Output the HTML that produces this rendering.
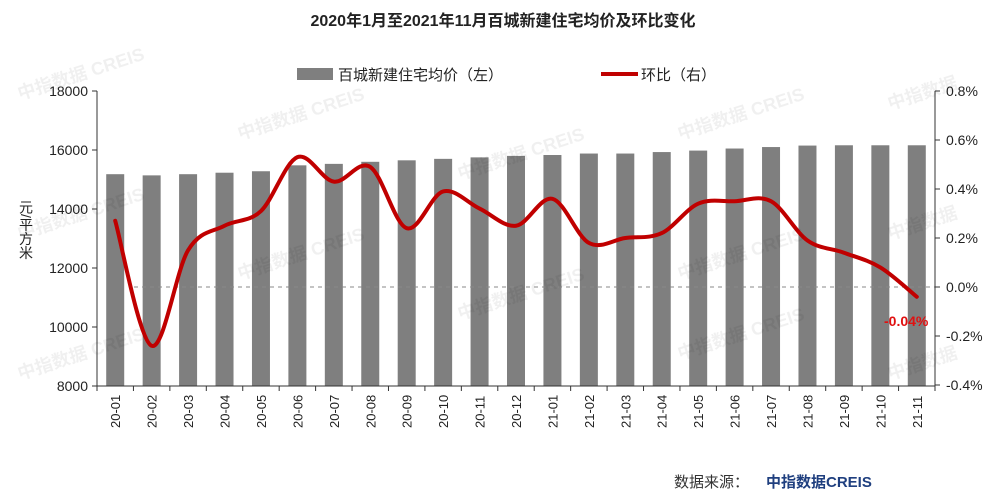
<!DOCTYPE html>
<html><head><meta charset="utf-8"><style>body{margin:0;background:#fff}svg{display:block}</style></head>
<body>
<svg width="1006" height="499" xmlns="http://www.w3.org/2000/svg" font-family="Liberation Sans, Noto Sans CJK SC, sans-serif">
<text x="503" y="26" text-anchor="middle" font-size="16" font-weight="bold" fill="#222">2020年1月至2021年11月百城新建住宅均价及环比变化</text>
<rect x="297" y="68" width="36" height="12" fill="#7f7f7f"/>
<text x="338" y="80" font-size="15" fill="#222">百城新建住宅均价（左）</text>
<line x1="601" y1="74" x2="638" y2="74" stroke="#c00000" stroke-width="4"/>
<text x="641" y="80" font-size="15" fill="#222">环比（右）</text>
<g id="bars" fill="#7f7f7f"></g>
<line x1="134" y1="287" x2="935" y2="287" stroke="#888" stroke-dasharray="4,4" stroke-width="1"/>
<line x1="97" y1="91" x2="97" y2="386" stroke="#333"/>
<line x1="935" y1="91" x2="935" y2="386" stroke="#333"/>
<line x1="97" y1="386" x2="935" y2="386" stroke="#333"/>
<g id="ticks" stroke="#333"></g>
<g font-size="14" fill="#222" text-anchor="end" id="ly"></g>
<g font-size="14" fill="#222" id="ry"></g>
<g font-size="13" fill="#222" id="xl"></g>
<text x="26" y="200" font-size="14" fill="#222" style="writing-mode:tb;glyph-orientation-vertical:0">元/平方米</text>
<path id="line" fill="none" stroke="#c00000" stroke-width="4" stroke-linejoin="round" stroke-linecap="round"/>
<text x="884" y="326" font-size="14" font-weight="bold" fill="#e01010">-0.04%</text>
<text x="674" y="487" font-size="15" fill="#333">数据来源：</text>
<text x="766" y="487" font-size="15" font-weight="bold" fill="#1f3f7f">中指数据CREIS</text>
<g font-size="18" font-weight="bold" fill="#000" fill-opacity="0.06">
<text transform="translate(20,100) rotate(-18)">中指数据 CREIS</text>
<text transform="translate(240,140) rotate(-18)">中指数据 CREIS</text>
<text transform="translate(20,240) rotate(-18)">中指数据 CREIS</text>
<text transform="translate(240,280) rotate(-18)">中指数据 CREIS</text>
<text transform="translate(460,180) rotate(-18)">中指数据 CREIS</text>
<text transform="translate(460,320) rotate(-18)">中指数据 CREIS</text>
<text transform="translate(680,140) rotate(-18)">中指数据 CREIS</text>
<text transform="translate(680,280) rotate(-18)">中指数据 CREIS</text>
<text transform="translate(680,360) rotate(-18)">中指数据 CREIS</text>
<text transform="translate(20,380) rotate(-18)">中指数据 CREIS</text>
<text transform="translate(890,110) rotate(-18)">中指数据</text>
<text transform="translate(890,240) rotate(-18)">中指数据</text>
<text transform="translate(890,380) rotate(-18)">中指数据</text>
</g>
</svg>
<script>
const ns="http://www.w3.org/2000/svg";
function el(t,a,p,txt){const e=document.createElementNS(ns,t);for(const k in a)e.setAttribute(k,a[k]);if(txt!=null)e.textContent=txt;document.getElementById(p).appendChild(e);return e;}
const bars=[15180,15140,15180,15230,15280,15480,15530,15600,15650,15700,15750,15800,15830,15880,15880,15930,15980,16050,16100,16150,16160,16160,16160];
const pct=[0.27,-0.24,0.15,0.25,0.31,0.53,0.43,0.49,0.24,0.39,0.32,0.25,0.36,0.18,0.20,0.22,0.34,0.35,0.35,0.19,0.14,0.08,-0.04];
const labs=["20-01","20-02","20-03","20-04","20-05","20-06","20-07","20-08","20-09","20-10","20-11","20-12","21-01","21-02","21-03","21-04","21-05","21-06","21-07","21-08","21-09","21-10","21-11"];
const x0=97,x1=935,n=23,w=(x1-x0)/n;
const yL=v=>386-(v-8000)/10000*295;
const yR=v=>287-v/0.2*49;
const pts=[];
for(let i=0;i<n;i++){const cx=x0+w*(i+0.5);
el('rect',{x:cx-9,y:yL(bars[i]),width:18,height:386-yL(bars[i])},'bars');
el('line',{x1:x0+w*i,y1:386,x2:x0+w*i,y2:391},'ticks');
el('text',{transform:`translate(${cx+5},428) rotate(-90)`},'xl',labs[i]);
pts.push([cx,yR(pct[i])]);}
el('line',{x1:x1,y1:386,x2:x1,y2:391},'ticks');
for(let v=8000;v<=18000;v+=2000){el('text',{x:88,y:yL(v)+5},'ly',v);el('line',{x1:92,y1:yL(v),x2:97,y2:yL(v)},'ticks');}
for(let v=-0.4;v<=0.81;v+=0.2){const r=Math.round(v*10)/10;el('text',{x:946,y:yR(r)+5},'ry',r.toFixed(1)+'%');el('line',{x1:935,y1:yR(r),x2:940,y2:yR(r)},'ticks');}
let d=`M${pts[0][0]},${pts[0][1]}`;
for(let i=0;i<n-1;i++){const p0=pts[Math.max(0,i-1)],p1=pts[i],p2=pts[i+1],p3=pts[Math.min(n-1,i+2)];
const c1=[p1[0]+(p2[0]-p0[0])/6,p1[1]+(p2[1]-p0[1])/6],c2=[p2[0]-(p3[0]-p1[0])/6,p2[1]-(p3[1]-p1[1])/6];
d+=` C${c1[0]},${c1[1]} ${c2[0]},${c2[1]} ${p2[0]},${p2[1]}`;}
document.getElementById('line').setAttribute('d',d);
</script>
</body></html>
